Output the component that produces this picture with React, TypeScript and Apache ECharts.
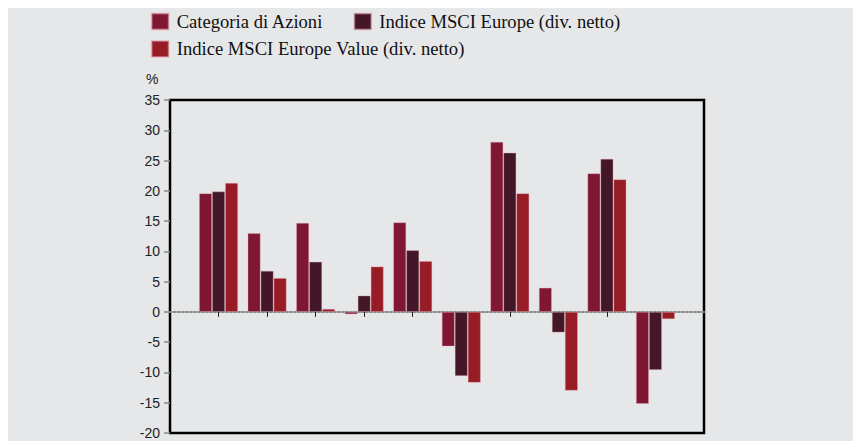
import React, { useEffect, useRef } from "react";
import * as echarts from "echarts";

const categories = ["", "G1", "G2", "G3", "G4", "G5", "G6", "G7", "G8", "G9", "G10", ""];
const seriesNames = [
  "Categoria di Azioni",
  "Indice MSCI Europe (div. netto)",
  "Indice MSCI Europe Value (div. netto)",
];
const categoriaAzioni = [19.6, 13.0, 14.7, -0.4, 14.8, -5.7, 28.1, 4.0, 22.9, -15.2];
const msciEurope = [19.9, 6.8, 8.3, 2.7, 10.2, -10.6, 26.3, -3.4, 25.3, -9.6];
const msciEuropeValue = [21.3, 5.6, 0.5, 7.5, 8.4, -11.7, 19.6, -13.0, 21.9, -1.2];
const yTicks = { min: -20, max: 35, interval: 5 };
const colors = ["#7f1734", "#431628", "#981c26"];

const pad = (arr: number[]) => [null, ...arr, null];

export default function App() {
  const ref = useRef<HTMLDivElement>(null);
  useEffect(() => {
    if (!ref.current) return;
    const chart = echarts.init(ref.current, null, { renderer: "svg" });
    const values = [categoriaAzioni, msciEurope, msciEuropeValue];
    const legendBase = {
      icon: "rect",
      padding: 0,
      itemWidth: 17,
      itemHeight: 16,
      textStyle: {
        fontFamily: "Liberation Serif",
        fontSize: 18.6,
        color: "#111",
        padding: [0, 0, 0, 3],
      },
      selectedMode: false,
    };
    chart.setOption({
      animation: false,
      backgroundColor: "#e6e7e9",
      color: colors,
      legend: [
        { ...legendBase, data: [seriesNames[0]], left: 142.7, top: 4 },
        { ...legendBase, data: [seriesNames[1]], left: 345.3, top: 4 },
        { ...legendBase, data: [seriesNames[2]], left: 142.7, top: 31.4 },
      ],
      graphic: [
        {
          type: "text",
          left: 138,
          top: 64,
          style: { text: "%", font: "14px 'Liberation Sans'", fill: "#222" },
        },
      ],
      grid: {
        left: 162,
        top: 92,
        width: 534,
        height: 333,
        show: true,
        borderColor: "#000",
        borderWidth: 2.5,
        backgroundColor: "transparent",
      },
      xAxis: {
        type: "category",
        data: categories,
        boundaryGap: false,
        axisLine: {
          show: true,
          onZero: true,
          lineStyle: { color: "#8a8a8a", width: 2, type: "dotted" },
        },
        axisTick: {
          show: true,
          length: 5,
          interval: (i: number) => i > 0 && i < categories.length - 1,
          lineStyle: { color: "#222", width: 1 },
        },
        axisLabel: { show: false },
        splitLine: { show: false },
      },
      yAxis: {
        type: "value",
        min: yTicks.min,
        max: yTicks.max,
        interval: yTicks.interval,
        axisLine: { show: false },
        axisTick: { show: true, length: 6, lineStyle: { color: "#888", width: 1.5 } },
        axisLabel: {
          margin: 10,
          fontFamily: "Liberation Sans",
          fontSize: 14,
          color: "#222",
        },
        splitLine: { show: false },
      },
      series: seriesNames.map((name, i) => ({
        name,
        type: "bar",
        data: pad(values[i]),
        barWidth: 13,
        barGap: "0%",
        itemStyle: {
          color: colors[i],
          borderColor: "rgba(230,170,180,0.45)",
          borderWidth: 0.8,
        },
      })),
    });
    return () => chart.dispose();
  }, []);
  return <div ref={ref} style={{ width: 853, height: 433 }} />;
}
